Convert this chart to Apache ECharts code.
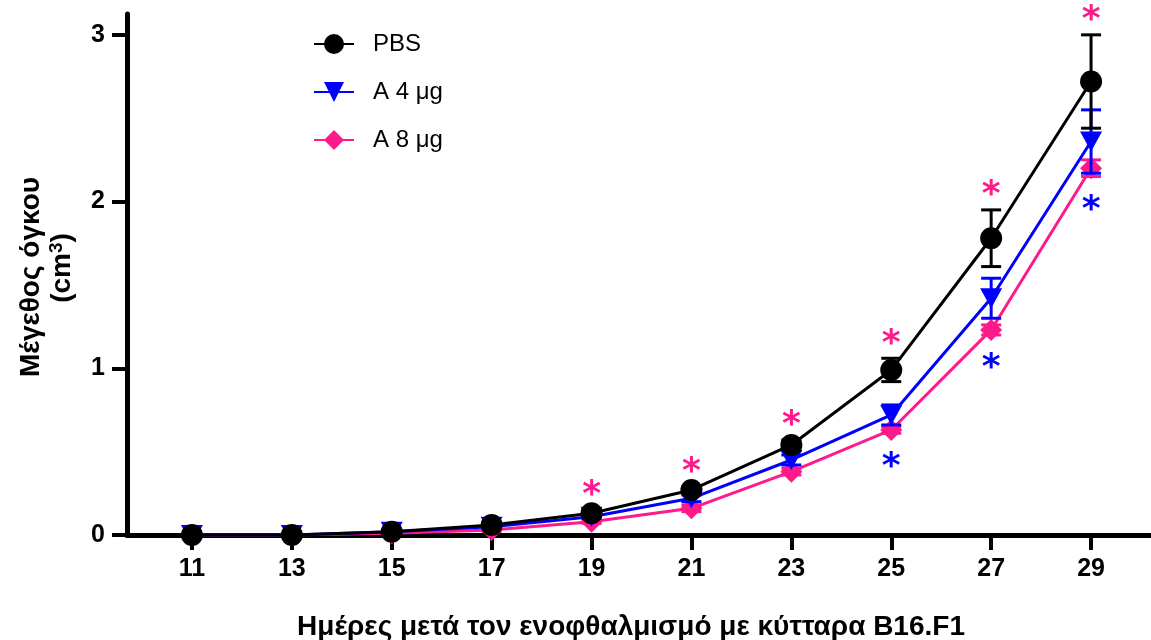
<!DOCTYPE html>
<html>
<head>
<meta charset="utf-8">
<script src="https://cdn.jsdelivr.net/npm/echarts@6/dist/echarts.min.js"></script>
<style>
  html, body { margin: 0; padding: 0; background: #fff; }
  #chart { width: 1151px; height: 640px; }
</style>
</head>
<body>
<div id="chart"></div>
<script>
// Tumour volume (cm³) after inoculation with B16.F1 cells, mean ± SEM
const days = [11, 13, 15, 17, 19, 21, 23, 25, 27, 29];

const pbsMean = [0.00, 0.00, 0.02, 0.06, 0.13, 0.27, 0.54, 0.99, 1.78, 2.72];
const pbsSem  = [0.01, 0.01, 0.01, 0.01, 0.02, 0.02, 0.03, 0.07, 0.17, 0.28];

const a4Mean  = [0.00, 0.00, 0.02, 0.05, 0.11, 0.22, 0.45, 0.72, 1.42, 2.36];
const a4Sem   = [0.01, 0.01, 0.01, 0.01, 0.01, 0.02, 0.03, 0.06, 0.12, 0.19];

const a8Mean  = [0.00, 0.00, 0.01, 0.03, 0.08, 0.16, 0.38, 0.63, 1.23, 2.20];
const a8Sem   = [0.005, 0.005, 0.005, 0.01, 0.01, 0.02, 0.02, 0.02, 0.03, 0.05];

// Days with a significant difference versus PBS
const sigA8Days = [19, 21, 23, 25, 27, 29];
const sigA4Days = [25, 27, 29];

const xTickValues = [11, 13, 15, 17, 19, 21, 23, 25, 27, 29];
const yTickValues = [0, 1, 2, 3];

const seriesNames = ['PBS', 'A 4 μg', 'A 8 μg'];

const BLACK = '#000000';
const BLUE = '#0000ff';
const PINK = '#ff1a8c';
const FONT = 'Liberation Sans, Arial, sans-serif';
const TITLE_FONT = 'bold 28px Liberation Sans, Arial, sans-serif';

function points(mean) {
  return days.map((d, i) => [d, mean[i]]);
}
function ranges(mean, sem) {
  return days.map((d, i) => [d, mean[i] - sem[i], mean[i] + sem[i]]);
}

function errorBarSeries(name, mean, sem, color, z) {
  return {
    type: 'custom',
    name: name + ' SEM',
    z: z,
    clip: false,
    silent: true,
    data: ranges(mean, sem),
    renderItem(params, api) {
      const lo = api.coord([api.value(0), api.value(1)]);
      const hi = api.coord([api.value(0), api.value(2)]);
      const half = 10;
      const style = { stroke: color, lineWidth: 3 };
      return {
        type: 'group',
        children: [
          { type: 'line', shape: { x1: lo[0], y1: lo[1], x2: hi[0], y2: hi[1] }, style },
          { type: 'line', shape: { x1: hi[0] - half, y1: hi[1], x2: hi[0] + half, y2: hi[1] }, style },
          { type: 'line', shape: { x1: lo[0] - half, y1: lo[1], x2: lo[0] + half, y2: lo[1] }, style }
        ]
      };
    }
  };
}

// Asterisk markers: pink above the PBS upper error, blue below the A 8 μg lower error
function starSeries(name, flagged, mean, sem, sign, color, offset) {
  const data = days
    .map((d, i) => [d, mean[i] + sign * sem[i]])
    .filter(p => flagged.indexOf(p[0]) !== -1);
  return {
    type: 'custom',
    name: name,
    z: 10,
    clip: false,
    silent: true,
    data: data,
    renderItem(params, api) {
      const p = api.coord([api.value(0), api.value(1)]);
      return {
        type: 'text',
        x: p[0],
        y: p[1] + offset,
        style: {
          text: '*',
          fill: color,
          font: 'bold 36px DejaVu Sans, sans-serif',
          align: 'center',
          verticalAlign: 'middle'
        }
      };
    }
  };
}

const chart = echarts.init(document.getElementById('chart'), null, { renderer: 'canvas' });

chart.setOption({
  animation: false,
  backgroundColor: '#ffffff',
  grid: { left: 127, right: 0, top: 14, bottom: 105, containLabel: false },
  legend: {
    data: seriesNames,
    orient: 'vertical',
    left: 313,
    top: 32,
    padding: 0,
    itemWidth: 40,
    itemHeight: 25,
    itemGap: 24,
    textStyle: { fontFamily: FONT, fontSize: 24, color: '#000', padding: [0, 0, 0, 14] },
    selectedMode: false
  },
  xAxis: {
    type: 'value',
    min: 9.7,
    max: 30.2,
    axisLine: { show: true, onZero: false, lineStyle: { color: BLACK, width: 5 } },
    axisTick: { show: true, customValues: xTickValues, length: 15, lineStyle: { color: BLACK, width: 4 } },
    axisLabel: {
      customValues: xTickValues,
      margin: 22,
      fontFamily: FONT,
      fontSize: 25,
      fontWeight: 'bold',
      color: '#000'
    },
    splitLine: { show: false }
  },
  yAxis: {
    type: 'value',
    min: 0,
    max: 3.125,
    axisLine: { show: true, lineStyle: { color: BLACK, width: 5 } },
    axisTick: { show: true, customValues: yTickValues, length: 15, lineStyle: { color: BLACK, width: 4 } },
    axisLabel: {
      customValues: yTickValues,
      margin: 22,
      fontFamily: FONT,
      fontSize: 25,
      fontWeight: 'bold',
      color: '#000'
    },
    splitLine: { show: false }
  },
  graphic: [
    {
      type: 'text',
      x: 631,
      y: 627,
      style: {
        text: 'Ημέρες μετά τον ενοφθαλμισμό με κύτταρα B16.F1',
        font: TITLE_FONT,
        fill: '#000',
        align: 'center',
        verticalAlign: 'middle'
      }
    },
    {
      type: 'text',
      x: 31,
      y: 277,
      rotation: Math.PI / 2,
      style: {
        text: 'Μέγεθος όγκου',
        font: TITLE_FONT,
        fill: '#000',
        align: 'center',
        verticalAlign: 'middle'
      }
    },
    {
      type: 'text',
      x: 62,
      y: 268,
      rotation: Math.PI / 2,
      style: {
        text: '(cm{s|3})',
        font: TITLE_FONT,
        fill: '#000',
        align: 'center',
        verticalAlign: 'middle',
        rich: {
          s: {
            fontSize: 19,
            fontWeight: 'bold',
            fontFamily: FONT,
            fill: '#000',
            verticalAlign: 'top',
            lineHeight: 30
          }
        }
      }
    }
  ],
  series: [
    errorBarSeries('A 8 μg', a8Mean, a8Sem, PINK, 2),
    {
      type: 'line',
      name: 'A 8 μg',
      z: 3,
      data: points(a8Mean),
      symbol: 'diamond',
      symbolSize: [22, 22],
      itemStyle: { color: PINK },
      lineStyle: { color: PINK, width: 3 }
    },
    errorBarSeries('A 4 μg', a4Mean, a4Sem, BLUE, 4),
    {
      type: 'line',
      name: 'A 4 μg',
      z: 5,
      data: points(a4Mean),
      symbol: 'triangle',
      symbolRotate: 180,
      symbolSize: [22, 20],
      itemStyle: { color: BLUE },
      lineStyle: { color: BLUE, width: 3 }
    },
    errorBarSeries('PBS', pbsMean, pbsSem, BLACK, 6),
    {
      type: 'line',
      name: 'PBS',
      z: 7,
      data: points(pbsMean),
      symbol: 'circle',
      symbolSize: 22,
      itemStyle: { color: BLACK },
      lineStyle: { color: BLACK, width: 3 }
    },
    starSeries('sig A 8 μg', sigA8Days, pbsMean, pbsSem, 1, PINK, -14),
    starSeries('sig A 4 μg', sigA4Days, a8Mean, a8Sem, -1, BLUE, 34)
  ]
});
</script>
</body>
</html>
